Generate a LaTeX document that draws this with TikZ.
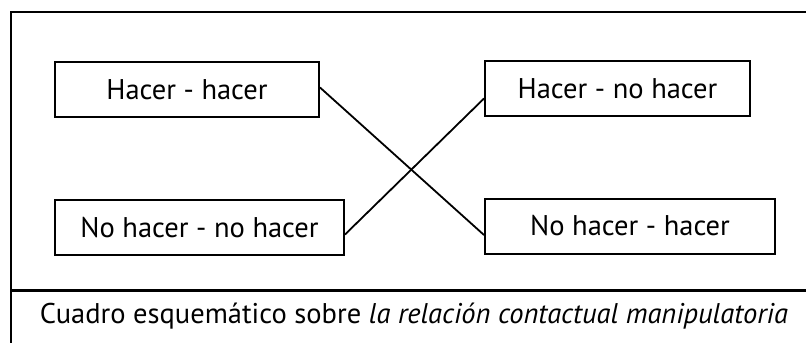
\documentclass[tikz,border=0pt]{standalone}
\usepackage{fontspec}
\setmainfont{PT Sans}
\begin{document}
\begin{tikzpicture}[x=1pt,y=-1pt,
  box/.style={draw,line width=2pt,inner sep=0pt,minimum height=55pt,font=\fontsize{28.5}{32}\selectfont},
  frame/.style={line width=2.2pt},
  link/.style={line width=1.8pt}]
\useasboundingbox (0,0) rectangle (806,343);
\fill[white] (0,0) rectangle (806,343);
\draw[frame] (806,12) -- (11,12) -- (11,343);
\draw[line width=3pt] (11,290) -- (806,290);
\node[box,minimum width=264pt] (b1) at (187,89.5) {Hacer - hacer};
\node[box,minimum width=289pt] (b2) at (199.5,227.5) {No hacer - no hacer};
\node[box,minimum width=265pt] (b3) at (617.5,88.5) {Hacer - no hacer};
\node[box,minimum width=290pt] (b4) at (630,226) {No hacer - hacer};
\draw[link] ([yshift=2pt]b1.east) -- ([yshift=-9pt]b4.west);
\draw[link] ([yshift=-7pt]b2.east) -- ([yshift=-10pt]b3.west);
\node[font=\fontsize{28.5}{32}\selectfont] (cap) at (414,316) {Cuadro esquemático sobre \textit{la relación contactual manipulatoria}};
\end{tikzpicture}
\end{document}
